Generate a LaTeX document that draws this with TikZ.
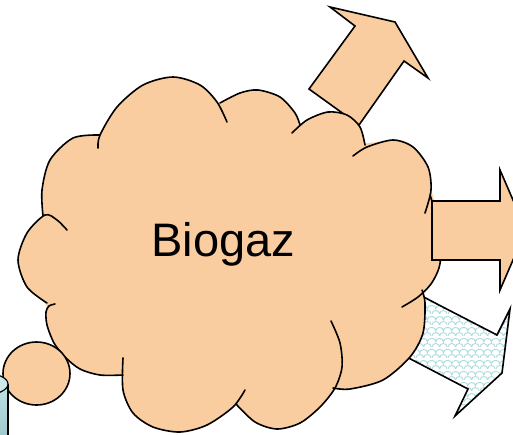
\documentclass[tikz,border=0pt]{standalone}
\usepackage{fontspec}
\setmainfont{Liberation Sans}
\usepackage{xcolor}
\definecolor{cPeach}{HTML}{FACDA0}
\definecolor{cScale}{HTML}{AEDADE}
\definecolor{cTankTop}{HTML}{CDE9EB}
\definecolor{cTankHi}{HTML}{BFE1E4}
\definecolor{cTankLo}{HTML}{9CC7CB}
\usepackage{tikz}
\usetikzlibrary{patterns}
% shingle pattern for the third arrow
\pgfdeclarepatternformonly{scales}{\pgfpointorigin}{\pgfqpoint{16pt}{11pt}}{\pgfqpoint{16pt}{11pt}}{%
  \pgfsetlinewidth{1pt}%
  \pgfpathmoveto{\pgfqpoint{0pt}{0pt}}%
  \pgfpathcurveto{\pgfqpoint{0pt}{5pt}}{\pgfqpoint{8pt}{5pt}}{\pgfqpoint{8pt}{0pt}}%
  \pgfpathcurveto{\pgfqpoint{8pt}{5pt}}{\pgfqpoint{16pt}{5pt}}{\pgfqpoint{16pt}{0pt}}%
  \pgfpathmoveto{\pgfqpoint{-4pt}{5.5pt}}%
  \pgfpathcurveto{\pgfqpoint{-4pt}{10.5pt}}{\pgfqpoint{4pt}{10.5pt}}{\pgfqpoint{4pt}{5.5pt}}%
  \pgfpathcurveto{\pgfqpoint{4pt}{10.5pt}}{\pgfqpoint{12pt}{10.5pt}}{\pgfqpoint{12pt}{5.5pt}}%
  \pgfpathcurveto{\pgfqpoint{12pt}{10.5pt}}{\pgfqpoint{20pt}{10.5pt}}{\pgfqpoint{20pt}{5.5pt}}%
  \pgfusepath{stroke}}
\tikzset{
  cloud-fill/.style={fill=cPeach},
  cloud-line/.style={draw=black,line width=1.6pt,line cap=round},
  block-arrow/.style={draw=black,line width=1.6pt,fill=cPeach},
  block-arrow-pat/.style={draw=black,line width=1.6pt,pattern=scales,pattern color=cScale},
  tank-body/.style={top color=cTankHi,bottom color=cTankLo},
  tank-top/.style={draw=black,line width=1.2pt,fill=cTankTop},
}

\begin{document}
\begin{tikzpicture}[x=1pt,y=-1pt]
  \clip (0,0) rectangle (513,434);
  % arrows behind the cloud
  \draw[block-arrow-pat] (384,276) -- (437,304) -- (497,335) -- (510,309) -- (502,373)
    -- (455,416) -- (468,389) -- (355,330) -- cycle;
  \draw[block-arrow] (309,89) -- (355,26) -- (330,7) -- (395,22) -- (428,78)
    -- (404,61) -- (359,125) -- cycle;
  % cloud body
  \fill[cloud-fill] (100,135) -- (173,77) -- (221,104) -- (258,90) -- (297,125) -- (328,112)
    -- (362,144) -- (393,140) -- (431,190) -- (434,200) -- (441,250) -- (421,293) -- (423,333)
    -- (335,388) -- (277,429) -- (236,404) -- (180,432) -- (123,376) -- (80,369) -- (46,305)
    -- (18,260) -- (44,214) -- (50,160) -- cycle
    plot[smooth] coordinates {(98,148) (100,135) (117,107) (143,85) (173,77) (200,85) (217,102) (227,122)} -- cycle
    plot[smooth] coordinates {(220,103) (240,93) (258,90) (280,97) (295,113) (300,125)} -- cycle
    plot[smooth] coordinates {(292,133) (307,120) (328,112) (347,115) (360,127) (365,145)} -- cycle
    plot[smooth] coordinates {(353,156) (367,147) (393,140) (413,147) (428,167) (431,190) (425,213)} -- cycle
    plot[smooth] coordinates {(430,195) (438,222) (441,250) (439,268) (431,284) (418,297) (402,307)} -- cycle
    plot[smooth] coordinates {(422,290) (425,303) (423,333) (410,357) (383,380) (350,389) (333,388)} -- cycle
    plot[smooth] coordinates {(331,321) (340,343) (342,367) (335,388) (320,407) (300,423) (277,429) (255,422) (236,404)} -- cycle
    plot[smooth] coordinates {(245,390) (233,407) (207,425) (180,432) (153,427) (133,413) (123,390) (123,358)} -- cycle
    plot[smooth] coordinates {(123,375) (100,375) (80,369) (65,357) (54,343) (47,325) (46,312) (49,306) (55,304)} -- cycle
    plot[smooth] coordinates {(47,303) (27,287) (18,260) (27,233) (45,215) (57,220) (67,230)} -- cycle
    plot[smooth] coordinates {(43,216) (42,190) (50,160) (73,138) (100,135)} -- cycle;
  \draw[cloud-line]
    plot[smooth] coordinates {(98,148) (100,135) (117,107) (143,85) (173,77) (200,85) (217,102) (227,122)}
    plot[smooth] coordinates {(220,103) (240,93) (258,90) (280,97) (295,113) (300,125)}
    plot[smooth] coordinates {(292,133) (307,120) (328,112) (347,115) (360,127) (365,145)}
    plot[smooth] coordinates {(353,156) (367,147) (393,140) (413,147) (428,167) (431,190) (425,213)}
    plot[smooth] coordinates {(430,195) (438,222) (441,250) (439,268) (431,284) (418,297) (402,307)}
    plot[smooth] coordinates {(422,290) (425,303) (423,333) (410,357) (383,380) (350,389) (333,388)}
    plot[smooth] coordinates {(331,321) (340,343) (342,367) (335,388) (320,407) (300,423) (277,429) (255,422) (236,404)}
    plot[smooth] coordinates {(245,390) (233,407) (207,425) (180,432) (153,427) (133,413) (123,390) (123,358)}
    plot[smooth] coordinates {(123,375) (100,375) (80,369) (65,357) (54,343) (47,325) (46,312) (49,306) (55,304)}
    plot[smooth] coordinates {(47,303) (27,287) (18,260) (27,233) (45,215) (57,220) (67,230)}
    plot[smooth] coordinates {(43,216) (42,190) (50,160) (73,138) (100,135)};
  % thought bubble
  \draw[cloud-line,cloud-fill] (36.5,373.5) ellipse [x radius=33.5,y radius=31.5];
  % tank at the corner
  \fill[tank-body] (-40,384) rectangle (8,440);
  \draw[line width=1.2pt] (8,384) -- (8,440);
  \draw[tank-top] (-16,384) ellipse [x radius=24,y radius=11];
  % arrow in front of the cloud
  \draw[block-arrow] (432,201) -- (500,201) -- (500,170) -- (526,230) -- (500,290)
    -- (500,260) -- (432,260) -- cycle;
  \node[font=\fontsize{47}{50}\selectfont,inner sep=0pt,anchor=base] (label) at (223.5,256) {Biogaz};
\end{tikzpicture}
\end{document}
